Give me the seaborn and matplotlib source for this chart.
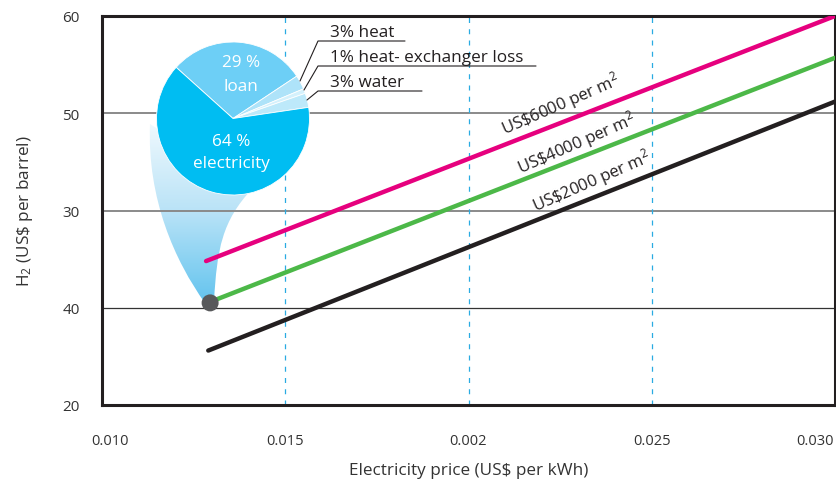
import numpy as np
import pandas as pd
import matplotlib
matplotlib.use("Agg")
import matplotlib.pyplot as plt
from matplotlib.path import Path
from matplotlib.patches import PathPatch
from matplotlib.colors import LinearSegmentedColormap
from matplotlib.transforms import offset_copy
import seaborn as sns

# data
x_6000 = [0.01284, 0.0300]
y_6000 = [34.8, 60.0]
x_4000 = [0.01295, 0.0300]
y_4000 = [30.6, 55.7]
x_2000 = [0.01290, 0.0300]
y_2000 = [25.6, 51.2]
series_names = ["US\\$6000 per m$^2$", "US\\$4000 per m$^2$", "US\\$2000 per m$^2$"]
series_colors = ["#e6007e", "#4cb848", "#231f20"]

dot_x = [0.01295]
dot_y = [30.5]

x_ticks = [0.010, 0.015, 0.020, 0.025, 0.030]
x_tick_labels = ["0.010", "0.015", "0.002", "0.025", "0.030"]
y_ticks = [20, 30, 40, 50, 60]
y_tick_labels = ["20", "40", "30", "50", "60"]

pie_labels = ["loan", "heat", "heat- exchanger loss", "water", "electricity"]
pie_values = [29, 3, 1, 3, 64]
pie_colors = ["#6dcff6", "#aee3f9", "#d4f1fc", "#bde9fa", "#00bdf2"]

df = pd.DataFrame({
    "price": x_6000 + x_4000 + x_2000,
    "cost": y_6000 + y_4000 + y_2000,
    "series": [series_names[0]] * 2 + [series_names[1]] * 2 + [series_names[2]] * 2,
})

sns.set_style("white")
plt.rcParams["font.family"] = ["Open Sans", "DejaVu Sans"]
plt.rcParams["mathtext.fontset"] = "custom"
plt.rcParams["mathtext.rm"] = "Open Sans"
plt.rcParams["mathtext.it"] = "Open Sans:italic"

fig = plt.figure(figsize=(8.36, 4.85), dpi=100)

# bottom overlay in pixel coords: gradient cone from pie to the dot
ov = fig.add_axes([0, 0, 1, 1], facecolor="none")
ov.set_xlim(0, 836)
ov.set_ylim(485, 0)
ov.axis("off")
verts = [(150, 125), (147, 200), (175, 262), (205, 304),
         (214, 302), (217, 250), (222, 222), (252, 190), (150, 125)]
codes = [Path.MOVETO, Path.CURVE4, Path.CURVE4, Path.CURVE4,
         Path.LINETO, Path.CURVE4, Path.CURVE4, Path.CURVE4, Path.CLOSEPOLY]
cone = PathPatch(Path(verts, codes), facecolor="none", edgecolor="none")
ov.add_patch(cone)
grad = np.linspace(0, 1, 256).reshape(-1, 1)
cmap = LinearSegmentedColormap.from_list("cone", ["#f2fafe", "#b9e3f7", "#62c3ee"])
im = ov.imshow(grad, cmap=cmap, extent=(140, 260, 305, 120), aspect="auto", zorder=2)
im.set_clip_path(cone)

ax = fig.add_axes([102 / 836, 1 - 406 / 485, 733 / 836, 389 / 485], facecolor="none")

# grid
for yv, c, lw in [(50, "#8a8a8a", 1.4), (30, "#333333", 0.9), (40, "#8a8a8a", 1.4)]:
    ax.axhline(yv, color=c, lw=lw, zorder=1)
for xv in [0.015, 0.020, 0.025]:
    ax.axvline(xv, color="#29abe2", lw=0.9, ls=(0, (4, 5)), zorder=1)

sns.lineplot(data=df, x="price", y="cost", hue="series", palette=series_colors,
             hue_order=series_names, linewidth=3.2, legend=False, ax=ax, zorder=3)
sns.scatterplot(x=dot_x, y=dot_y, color="#58595b", s=150, edgecolor="none", ax=ax, zorder=4)

ax.set_xlim(0.010, 0.030)
ax.set_ylim(20, 60)
ax.set_xticks(x_ticks)
ax.set_xticklabels(x_tick_labels, fontsize=10.5, color="#333333")
ax.set_yticks(y_ticks)
ax.set_yticklabels(y_tick_labels, fontsize=11, color="#333333")
ax.tick_params(axis="y", length=10, width=1, color="#555555", pad=6)
ax.tick_params(axis="x", length=0, pad=20)
xl = ax.get_xticklabels()
xl[0].set_transform(offset_copy(xl[0].get_transform(), fig=fig, x=8, y=0, units="dots"))
xl[-1].set_transform(offset_copy(xl[-1].get_transform(), fig=fig, x=-20, y=0, units="dots"))
for s in ax.spines.values():
    s.set_linewidth(2.2)
    s.set_color("#231f20")
ax.set_xlabel("Electricity price (US\\$ per kWh)", fontsize=12.3, color="#333333", labelpad=10)
ax.set_ylabel("H$_2$ (US\\$ per barrel)", fontsize=12.3, color="#333333", labelpad=20)

# line labels
ang = 23.5
for (xx, yy), name in zip([(0.02252, 50.95), (0.02296, 47.0), (0.02337, 43.1)], series_names):
    ax.text(xx, yy, name, rotation=ang, rotation_mode="anchor", ha="center", va="center",
            fontsize=12, color="#231f20", zorder=5)

# pie chart
pax = fig.add_axes([156.5 / 836, 1 - 196 / 485, 153 / 836, 153 / 485])
pax.pie(pie_values, colors=pie_colors, startangle=138, counterclock=False,
        wedgeprops=dict(edgecolor="white", linewidth=0.6))
pax.set_xlim(-1.0, 1.0)
pax.set_ylim(-1.0, 1.0)
pax.set_aspect("equal")

# top overlay for text
top = fig.add_axes([0, 0, 1, 1], facecolor="none")
top.set_xlim(0, 836)
top.set_ylim(485, 0)
top.axis("off")
top.text(241, 63, "29 %", ha="center", va="center", color="white", fontsize=12.3)
top.text(241, 87, "loan", ha="center", va="center", color="white", fontsize=12.3)
top.text(231, 142, "64 %", ha="center", va="center", color="white", fontsize=12.3)
top.text(231, 164, "electricity", ha="center", va="center", color="white", fontsize=12.3)

leaders = [("3% heat", (300, 82), 42, 405),
           ("1% heat- exchanger loss", (304, 91), 67, 536),
           ("3% water", (307, 101), 92, 422)]
for txt, (px, py), ly, lx_end in leaders:
    top.plot([px, 318, lx_end], [py, ly, ly], color="#231f20", lw=0.8)
    top.text(330, ly - 1, txt, ha="left", va="bottom", fontsize=12.3, color="#231f20")

fig.savefig("out.png", dpi=100)
